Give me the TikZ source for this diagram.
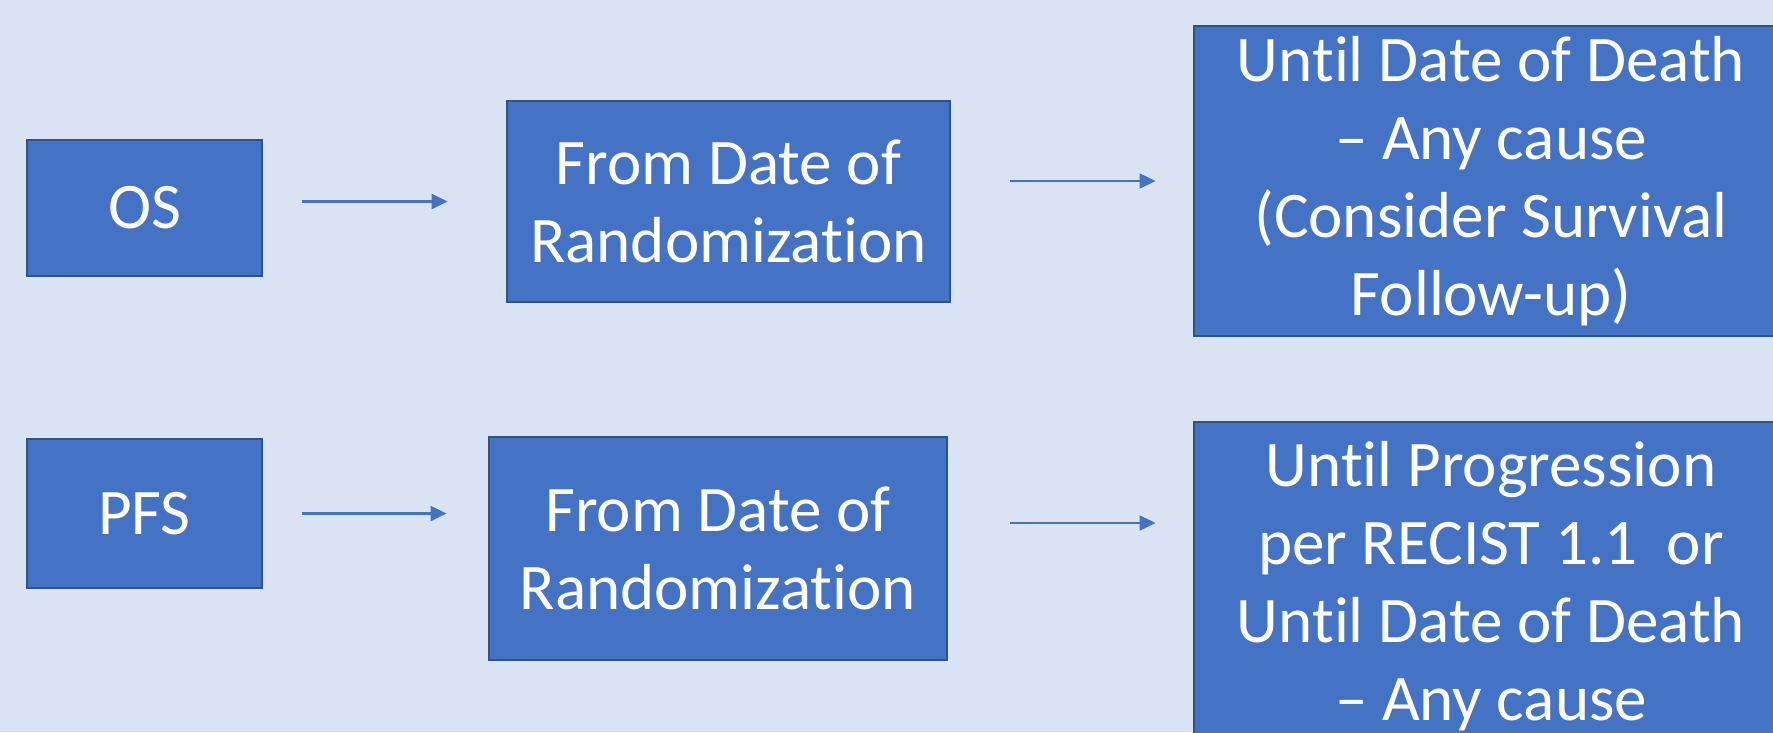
\documentclass[tikz,border=0pt]{standalone}
\usepackage{fontspec}
\setmainfont{Carlito}[Ligatures={TeX,NoCommon}]
\usetikzlibrary{arrows.meta}

\definecolor{bgblue}{HTML}{DAE3F3}
\definecolor{boxblue}{HTML}{4472C4}
\definecolor{edgeblue}{HTML}{2F528F}

\begin{document}
\begin{tikzpicture}[x=0.01cm, y=-0.01cm]
	\tikzstyle{main}=[rectangle, fill=boxblue, draw=edgeblue, line width=0.7pt, text=white, align=center, inner sep=0pt, font=\fontsize{18.5}{22.2}\selectfont]
	\tikzstyle{connect}=[-{Triangle[length=0.16cm, width=0.15cm]}, draw=boxblue, line width=0.6pt]
	\useasboundingbox (0,0) rectangle (1773,732);
	\fill[bgblue] (0,0) rectangle (1773,732);
	\clip (0,0) rectangle (1773,732);
	  \node[main, minimum width=2.35cm, minimum height=1.36cm] (os) at (144.5,208) {OS};
	  \node[main, minimum width=4.43cm, minimum height=2.01cm] (from1) at (728.5,201.5) {From Date of\\Randomization};
	  \node[main, minimum width=5.94cm, minimum height=3.10cm] (until1) at (1491,181) {Until Date of Death\\– Any cause\\(Consider Survival\\Follow-up)};
	  \node[main, minimum width=2.35cm, minimum height=1.49cm] (pfs) at (144.5,513.5) {PFS};
	  \node[main, minimum width=4.58cm, minimum height=2.23cm] (from2) at (718,548.5) {From Date of\\Randomization};
	  \node[main, minimum width=5.94cm, minimum height=3.28cm] (until2) at (1491,586) {Until Progression\\per RECIST 1.1\ \ or\\Until Date of Death\\– Any cause};
	  \coordinate (lvl) at (0,523);
	  \path (os.east |- from1.west) edge [connect, shorten <=0.39cm, shorten >=0.58cm] (from1.west)
			(from1.east |- until1.west) edge [connect, shorten <=0.59cm, shorten >=0.37cm] (until1.west)
			(pfs.east) edge [connect, shorten <=0.39cm, shorten >=0.41cm] (pfs.east -| from2.west)
			(from2.east |- lvl) edge [connect, shorten <=0.62cm, shorten >=0.37cm] (until2.west |- lvl);
\end{tikzpicture}
\end{document}
